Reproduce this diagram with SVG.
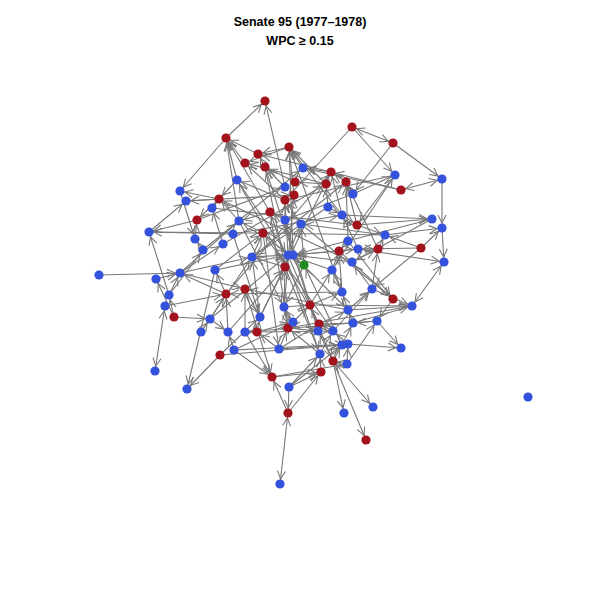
<svg xmlns="http://www.w3.org/2000/svg" width="600" height="600" viewBox="0 0 600 600">
<style>
.t{font-family:"Liberation Sans",Arial,sans-serif;font-weight:bold;font-size:12.5px;fill:#000;text-anchor:middle}
#edges line{stroke:#777;stroke-width:1.1;marker-end:url(#a)}
#edges line.d{marker-start:url(#s)}
.r{fill:#A3131E}.b{fill:#3452DC}.g{fill:#1F8A1F}
</style>
<defs>
<marker id="a" markerUnits="userSpaceOnUse" markerWidth="20" markerHeight="20" refX="13" refY="4" orient="auto" overflow="visible"><path d="M0,0 L8,4 L0,8" fill="none" stroke="#777" stroke-width="1.1"/></marker>
<marker id="s" markerUnits="userSpaceOnUse" markerWidth="20" markerHeight="20" refX="13" refY="4" orient="auto-start-reverse" overflow="visible"><path d="M0,0 L8,4 L0,8" fill="none" stroke="#777" stroke-width="1.1"/></marker>
</defs>
<rect width="600" height="600" fill="#fff"/>
<text class="t" x="300" y="26">Senate 95 (1977–1978)</text>
<text class="t" x="300" y="45">WPC ≥ 0.15</text>
<g id="edges">
<line x1="226" y1="138" x2="265" y2="101"/>
<line x1="226" y1="138" x2="180" y2="191"/>
<line class="d" x1="352" y1="127" x2="393" y2="143"/>
<line x1="352" y1="127" x2="395" y2="175"/>
<line x1="352" y1="127" x2="285" y2="200"/>
<line x1="393" y1="143" x2="442" y2="179"/>
<line x1="393" y1="143" x2="353" y2="194"/>
<line class="d" x1="401" y1="190" x2="442" y2="179"/>
<line x1="401" y1="190" x2="331" y2="172"/>
<line x1="353" y1="194" x2="395" y2="175"/>
<line x1="332" y1="270" x2="395" y2="175"/>
<line x1="442" y1="179" x2="442" y2="228"/>
<line x1="385" y1="235" x2="442" y2="228"/>
<line x1="421" y1="248" x2="442" y2="228"/>
<line x1="442" y1="228" x2="444" y2="262"/>
<line class="d" x1="444" y1="262" x2="412" y2="306"/>
<line x1="358" y1="249" x2="444" y2="262"/>
<line x1="421" y1="248" x2="385" y2="235"/>
<line x1="357" y1="225" x2="432" y2="219"/>
<line x1="342" y1="215" x2="432" y2="219"/>
<line x1="348" y1="241" x2="393" y2="299"/>
<line x1="339" y1="251" x2="393" y2="299"/>
<line x1="372" y1="289" x2="412" y2="306"/>
<line x1="348" y1="310" x2="412" y2="306"/>
<line x1="310" y1="305" x2="412" y2="306"/>
<line x1="377" y1="321" x2="401" y2="348"/>
<line x1="348" y1="344" x2="401" y2="348"/>
<line x1="99" y1="275" x2="180" y2="273"/>
<line class="d" x1="165" y1="306" x2="155" y2="371"/>
<line x1="169" y1="295" x2="149" y2="232"/>
<line x1="220" y1="355" x2="187" y2="389"/>
<line x1="215" y1="270" x2="187" y2="389"/>
<line class="d" x1="288" y1="413" x2="280" y2="484"/>
<line x1="288" y1="413" x2="272" y2="377"/>
<line x1="289" y1="387" x2="288" y2="413"/>
<line x1="288" y1="413" x2="321" y2="372"/>
<line x1="234" y1="350" x2="272" y2="377"/>
<line x1="272" y1="377" x2="321" y2="372"/>
<line x1="289" y1="387" x2="321" y2="372"/>
<line x1="289" y1="387" x2="320" y2="354"/>
<line x1="333" y1="361" x2="344" y2="413"/>
<line class="d" x1="333" y1="361" x2="373" y2="407"/>
<line x1="333" y1="361" x2="366" y2="440"/>
<line x1="285" y1="187" x2="265" y2="101"/>
<line x1="245" y1="289" x2="272" y2="377"/>
<line x1="245" y1="332" x2="272" y2="377"/>
<line x1="245" y1="163" x2="226" y2="138"/>
<line x1="258" y1="154" x2="226" y2="138"/>
<line x1="237" y1="180" x2="226" y2="138"/>
<line x1="239" y1="221" x2="226" y2="138"/>
<line x1="270" y1="212" x2="226" y2="138"/>
<line x1="265" y1="167" x2="258" y2="154"/>
<line x1="289" y1="147" x2="258" y2="154"/>
<line x1="289" y1="147" x2="245" y2="163"/>
<line x1="303" y1="168" x2="289" y2="147"/>
<line x1="294" y1="195" x2="289" y2="147"/>
<line x1="293" y1="255" x2="289" y2="147"/>
<line x1="326" y1="184" x2="289" y2="147"/>
<line x1="342" y1="215" x2="289" y2="147"/>
<line x1="331" y1="172" x2="303" y2="168"/>
<line x1="346" y1="182" x2="331" y2="172"/>
<line x1="295" y1="182" x2="265" y2="167"/>
<line x1="285" y1="187" x2="265" y2="167"/>
<line x1="326" y1="184" x2="295" y2="182"/>
<line x1="328" y1="207" x2="326" y2="184"/>
<line x1="353" y1="194" x2="346" y2="182"/>
<line x1="357" y1="225" x2="346" y2="182"/>
<line x1="348" y1="241" x2="346" y2="182"/>
<line x1="342" y1="215" x2="331" y2="172"/>
<line x1="285" y1="200" x2="245" y2="163"/>
<line x1="285" y1="200" x2="237" y2="180"/>
<line x1="219" y1="199" x2="186" y2="201"/>
<line x1="219" y1="199" x2="180" y2="191"/>
<line x1="197" y1="220" x2="149" y2="232"/>
<line x1="237" y1="180" x2="219" y2="199"/>
<line x1="239" y1="221" x2="219" y2="199"/>
<line x1="219" y1="199" x2="197" y2="220"/>
<line x1="212" y1="208" x2="219" y2="199"/>
<line x1="233" y1="234" x2="149" y2="232"/>
<line x1="149" y1="232" x2="186" y2="201"/>
<line x1="195" y1="239" x2="197" y2="220"/>
<line x1="223" y1="244" x2="212" y2="208"/>
<line x1="203" y1="250" x2="195" y2="239"/>
<line x1="252" y1="257" x2="263" y2="233"/>
<line x1="263" y1="233" x2="239" y2="221"/>
<line x1="270" y1="212" x2="239" y2="221"/>
<line x1="285" y1="220" x2="270" y2="212"/>
<line x1="301" y1="224" x2="285" y2="200"/>
<line x1="285" y1="220" x2="285" y2="200"/>
<line x1="288" y1="255" x2="285" y2="200"/>
<line x1="293" y1="255" x2="285" y2="220"/>
<line x1="288" y1="255" x2="301" y2="224"/>
<line x1="304" y1="265" x2="288" y2="255"/>
<line x1="358" y1="249" x2="293" y2="255"/>
<line x1="339" y1="251" x2="293" y2="255"/>
<line x1="352" y1="262" x2="293" y2="255"/>
<line x1="332" y1="270" x2="288" y2="255"/>
<line x1="285" y1="267" x2="288" y2="255"/>
<line x1="252" y1="257" x2="288" y2="255"/>
<line x1="263" y1="233" x2="288" y2="255"/>
<line x1="215" y1="270" x2="288" y2="255"/>
<line x1="180" y1="273" x2="223" y2="244"/>
<line x1="156" y1="279" x2="180" y2="273"/>
<line x1="169" y1="295" x2="180" y2="273"/>
<line x1="180" y1="273" x2="252" y2="257"/>
<line x1="180" y1="273" x2="245" y2="289"/>
<line x1="226" y1="294" x2="180" y2="273"/>
<line x1="174" y1="317" x2="156" y2="279"/>
<line x1="174" y1="317" x2="169" y2="295"/>
<line x1="174" y1="317" x2="210" y2="319"/>
<line x1="165" y1="306" x2="226" y2="294"/>
<line x1="169" y1="295" x2="203" y2="250"/>
<line x1="180" y1="191" x2="195" y2="239"/>
<line x1="328" y1="207" x2="342" y2="215"/>
<line x1="342" y1="215" x2="357" y2="225"/>
<line x1="357" y1="225" x2="385" y2="235"/>
<line x1="348" y1="241" x2="339" y2="251"/>
<line x1="358" y1="249" x2="378" y2="249"/>
<line x1="378" y1="249" x2="385" y2="235"/>
<line x1="352" y1="262" x2="378" y2="249"/>
<line x1="332" y1="270" x2="339" y2="251"/>
<line x1="339" y1="251" x2="358" y2="249"/>
<line x1="342" y1="292" x2="332" y2="270"/>
<line x1="372" y1="289" x2="378" y2="249"/>
<line x1="372" y1="289" x2="352" y2="262"/>
<line x1="393" y1="299" x2="377" y2="321"/>
<line x1="377" y1="321" x2="353" y2="323"/>
<line x1="353" y1="323" x2="348" y2="310"/>
<line x1="348" y1="310" x2="342" y2="292"/>
<line x1="342" y1="292" x2="339" y2="251"/>
<line x1="310" y1="305" x2="332" y2="270"/>
<line x1="310" y1="305" x2="342" y2="292"/>
<line x1="284" y1="307" x2="310" y2="305"/>
<line x1="293" y1="322" x2="310" y2="305"/>
<line x1="319" y1="324" x2="310" y2="305"/>
<line x1="318" y1="331" x2="319" y2="324"/>
<line x1="333" y1="331" x2="319" y2="324"/>
<line x1="353" y1="323" x2="319" y2="324"/>
<line x1="319" y1="324" x2="348" y2="310"/>
<line x1="348" y1="310" x2="372" y2="289"/>
<line x1="333" y1="331" x2="372" y2="289"/>
<line x1="342" y1="345" x2="353" y2="323"/>
<line x1="348" y1="344" x2="333" y2="331"/>
<line x1="333" y1="361" x2="318" y2="331"/>
<line x1="320" y1="354" x2="333" y2="331"/>
<line x1="321" y1="372" x2="320" y2="354"/>
<line x1="347" y1="364" x2="333" y2="361"/>
<line x1="347" y1="364" x2="348" y2="344"/>
<line x1="333" y1="361" x2="342" y2="345"/>
<line x1="284" y1="307" x2="285" y2="267"/>
<line x1="285" y1="267" x2="252" y2="257"/>
<line x1="304" y1="265" x2="301" y2="224"/>
<line x1="304" y1="265" x2="284" y2="307"/>
<line x1="260" y1="317" x2="285" y2="267"/>
<line x1="260" y1="317" x2="252" y2="257"/>
<line x1="245" y1="289" x2="260" y2="317"/>
<line x1="257" y1="332" x2="260" y2="317"/>
<line x1="245" y1="332" x2="257" y2="332"/>
<line x1="257" y1="332" x2="293" y2="322"/>
<line x1="288" y1="328" x2="293" y2="322"/>
<line x1="293" y1="322" x2="284" y2="307"/>
<line x1="288" y1="328" x2="284" y2="307"/>
<line x1="279" y1="349" x2="288" y2="328"/>
<line x1="320" y1="354" x2="288" y2="328"/>
<line x1="288" y1="328" x2="318" y2="331"/>
<line x1="279" y1="349" x2="257" y2="332"/>
<line x1="234" y1="350" x2="228" y2="332"/>
<line x1="228" y1="332" x2="226" y2="294"/>
<line x1="210" y1="319" x2="226" y2="294"/>
<line x1="201" y1="332" x2="210" y2="319"/>
<line x1="210" y1="319" x2="228" y2="332"/>
<line x1="245" y1="332" x2="245" y2="289"/>
<line x1="226" y1="294" x2="215" y2="270"/>
<line x1="215" y1="270" x2="263" y2="233"/>
<line x1="395" y1="175" x2="285" y2="200"/>
<line x1="401" y1="190" x2="303" y2="168"/>
<line x1="432" y1="219" x2="293" y2="255"/>
<line x1="385" y1="235" x2="263" y2="233"/>
<line x1="421" y1="248" x2="358" y2="249"/>
<line x1="412" y1="306" x2="288" y2="328"/>
<line x1="377" y1="321" x2="245" y2="332"/>
<line x1="234" y1="350" x2="348" y2="344"/>
<line x1="220" y1="355" x2="342" y2="345"/>
<line x1="279" y1="349" x2="342" y2="345"/>
<line x1="331" y1="172" x2="258" y2="154"/>
<line x1="326" y1="184" x2="245" y2="163"/>
<line x1="289" y1="147" x2="342" y2="292"/>
<line x1="265" y1="167" x2="285" y2="267"/>
<line x1="237" y1="180" x2="288" y2="255"/>
<line x1="233" y1="234" x2="342" y2="215"/>
<line x1="223" y1="244" x2="326" y2="184"/>
<line x1="203" y1="250" x2="303" y2="168"/>
<line x1="197" y1="220" x2="285" y2="187"/>
<line x1="186" y1="201" x2="294" y2="195"/>
<line x1="212" y1="208" x2="357" y2="225"/>
<line x1="252" y1="257" x2="346" y2="182"/>
<line x1="149" y1="232" x2="263" y2="233"/>
<line x1="180" y1="273" x2="239" y2="221"/>
<line x1="226" y1="294" x2="331" y2="172"/>
<line x1="284" y1="307" x2="294" y2="195"/>
<line x1="260" y1="317" x2="331" y2="172"/>
<line x1="310" y1="305" x2="265" y2="167"/>
<line x1="318" y1="331" x2="285" y2="220"/>
<line x1="319" y1="324" x2="237" y2="180"/>
<line x1="320" y1="354" x2="270" y2="212"/>
<line x1="342" y1="345" x2="304" y2="265"/>
<line x1="333" y1="331" x2="263" y2="233"/>
<line x1="348" y1="310" x2="245" y2="289"/>
<line x1="342" y1="292" x2="226" y2="294"/>
<line x1="352" y1="262" x2="219" y2="199"/>
<line x1="385" y1="235" x2="301" y2="224"/>
<line x1="353" y1="194" x2="285" y2="220"/>
<line x1="328" y1="207" x2="252" y2="257"/>
<line x1="301" y1="224" x2="393" y2="299"/>
<line x1="293" y1="255" x2="348" y2="310"/>
<line x1="288" y1="255" x2="333" y2="361"/>
<line x1="285" y1="267" x2="320" y2="354"/>
<line x1="270" y1="212" x2="288" y2="328"/>
<line x1="263" y1="233" x2="279" y2="349"/>
<line x1="239" y1="221" x2="284" y2="307"/>
<line x1="233" y1="234" x2="260" y2="317"/>
<line x1="228" y1="332" x2="285" y2="267"/>
<line x1="201" y1="332" x2="252" y2="257"/>
<line x1="210" y1="319" x2="288" y2="255"/>
<line x1="234" y1="350" x2="293" y2="322"/>
<line x1="257" y1="332" x2="333" y2="331"/>
<line x1="279" y1="349" x2="319" y2="324"/>
<line x1="289" y1="387" x2="342" y2="345"/>
<line x1="272" y1="377" x2="347" y2="364"/>
<line x1="220" y1="355" x2="260" y2="317"/>
<line x1="347" y1="364" x2="377" y2="321"/>
<line x1="353" y1="323" x2="412" y2="306"/>
<line x1="358" y1="249" x2="342" y2="215"/>
<line x1="378" y1="249" x2="346" y2="182"/>
<line x1="395" y1="175" x2="357" y2="225"/>
<line x1="432" y1="219" x2="352" y2="262"/>
<line x1="421" y1="248" x2="372" y2="289"/>
</g>
<g id="nodes">
<g id="r1"><circle class="r" cx="265" cy="101" r="4.6"/></g>
<g id="r2"><circle class="r" cx="226" cy="138" r="4.6"/></g>
<g id="r3"><circle class="r" cx="352" cy="127" r="4.6"/></g>
<g id="r4"><circle class="r" cx="393" cy="143" r="4.6"/></g>
<g id="r5"><circle class="r" cx="289" cy="147" r="4.6"/></g>
<g id="r6"><circle class="r" cx="258" cy="154" r="4.6"/></g>
<g id="r7"><circle class="r" cx="245" cy="163" r="4.6"/></g>
<g id="r8"><circle class="r" cx="265" cy="167" r="4.6"/></g>
<g id="r9"><circle class="r" cx="331" cy="172" r="4.6"/></g>
<g id="r10"><circle class="r" cx="346" cy="182" r="4.6"/></g>
<g id="r11"><circle class="r" cx="295" cy="182" r="4.6"/></g>
<g id="r12"><circle class="r" cx="326" cy="184" r="4.6"/></g>
<g id="r13"><circle class="r" cx="294" cy="195" r="4.6"/></g>
<g id="r14"><circle class="r" cx="285" cy="200" r="4.6"/></g>
<g id="r15"><circle class="r" cx="401" cy="190" r="4.6"/></g>
<g id="r16"><circle class="r" cx="219" cy="199" r="4.6"/></g>
<g id="r17"><circle class="r" cx="197" cy="220" r="4.6"/></g>
<g id="r18"><circle class="r" cx="270" cy="212" r="4.6"/></g>
<g id="r19"><circle class="r" cx="357" cy="225" r="4.6"/></g>
<g id="r20"><circle class="r" cx="263" cy="233" r="4.6"/></g>
<g id="r21"><circle class="r" cx="339" cy="251" r="4.6"/></g>
<g id="r22"><circle class="r" cx="378" cy="249" r="4.6"/></g>
<g id="r23"><circle class="r" cx="421" cy="248" r="4.6"/></g>
<g id="r24"><circle class="r" cx="285" cy="267" r="4.6"/></g>
<g id="r25"><circle class="r" cx="226" cy="294" r="4.6"/></g>
<g id="r26"><circle class="r" cx="245" cy="289" r="4.6"/></g>
<g id="r27"><circle class="r" cx="174" cy="317" r="4.6"/></g>
<g id="r28"><circle class="r" cx="310" cy="305" r="4.6"/></g>
<g id="r29"><circle class="r" cx="393" cy="299" r="4.6"/></g>
<g id="r30"><circle class="r" cx="257" cy="332" r="4.6"/></g>
<g id="r31"><circle class="r" cx="288" cy="328" r="4.6"/></g>
<g id="r32"><circle class="r" cx="319" cy="324" r="4.6"/></g>
<g id="r33"><circle class="r" cx="220" cy="355" r="4.6"/></g>
<g id="r34"><circle class="r" cx="333" cy="361" r="4.6"/></g>
<g id="r35"><circle class="r" cx="321" cy="372" r="4.6"/></g>
<g id="r36"><circle class="r" cx="272" cy="377" r="4.6"/></g>
<g id="r37"><circle class="r" cx="288" cy="413" r="4.6"/></g>
<g id="r38"><circle class="r" cx="366" cy="440" r="4.6"/></g>
<g id="b1"><circle class="b" cx="303" cy="168" r="4.6"/></g>
<g id="b2"><circle class="b" cx="395" cy="175" r="4.6"/></g>
<g id="b3"><circle class="b" cx="442" cy="179" r="4.6"/></g>
<g id="b4"><circle class="b" cx="353" cy="194" r="4.6"/></g>
<g id="b5"><circle class="b" cx="285" cy="187" r="4.6"/></g>
<g id="b6"><circle class="b" cx="328" cy="207" r="4.6"/></g>
<g id="b7"><circle class="b" cx="342" cy="215" r="4.6"/></g>
<g id="b8"><circle class="b" cx="432" cy="219" r="4.6"/></g>
<g id="b9"><circle class="b" cx="442" cy="228" r="4.6"/></g>
<g id="b10"><circle class="b" cx="285" cy="220" r="4.6"/></g>
<g id="b11"><circle class="b" cx="301" cy="224" r="4.6"/></g>
<g id="b12"><circle class="b" cx="237" cy="180" r="4.6"/></g>
<g id="b13"><circle class="b" cx="180" cy="191" r="4.6"/></g>
<g id="b14"><circle class="b" cx="186" cy="201" r="4.6"/></g>
<g id="b15"><circle class="b" cx="212" cy="208" r="4.6"/></g>
<g id="b16"><circle class="b" cx="149" cy="232" r="4.6"/></g>
<g id="b17"><circle class="b" cx="239" cy="221" r="4.6"/></g>
<g id="b18"><circle class="b" cx="233" cy="234" r="4.6"/></g>
<g id="b19"><circle class="b" cx="195" cy="239" r="4.6"/></g>
<g id="b20"><circle class="b" cx="223" cy="244" r="4.6"/></g>
<g id="b21"><circle class="b" cx="203" cy="250" r="4.6"/></g>
<g id="b22"><circle class="b" cx="252" cy="257" r="4.6"/></g>
<g id="b23"><circle class="b" cx="99" cy="275" r="4.6"/></g>
<g id="b24"><circle class="b" cx="180" cy="273" r="4.6"/></g>
<g id="b25"><circle class="b" cx="215" cy="270" r="4.6"/></g>
<g id="b26"><circle class="b" cx="156" cy="279" r="4.6"/></g>
<g id="b27"><circle class="b" cx="169" cy="295" r="4.6"/></g>
<g id="b28"><circle class="b" cx="165" cy="306" r="4.6"/></g>
<g id="b29"><circle class="b" cx="210" cy="319" r="4.6"/></g>
<g id="b30"><circle class="b" cx="201" cy="332" r="4.6"/></g>
<g id="b31"><circle class="b" cx="228" cy="332" r="4.6"/></g>
<g id="b32"><circle class="b" cx="245" cy="332" r="4.6"/></g>
<g id="b33"><circle class="b" cx="260" cy="317" r="4.6"/></g>
<g id="b34"><circle class="b" cx="385" cy="235" r="4.6"/></g>
<g id="b35"><circle class="b" cx="348" cy="241" r="4.6"/></g>
<g id="b36"><circle class="b" cx="358" cy="249" r="4.6"/></g>
<g id="b37"><circle class="b" cx="288" cy="255" r="4.6"/></g>
<g id="b38"><circle class="b" cx="293" cy="255" r="4.6"/></g>
<g id="b39"><circle class="b" cx="352" cy="262" r="4.6"/></g>
<g id="b40"><circle class="b" cx="332" cy="270" r="4.6"/></g>
<g id="b41"><circle class="b" cx="444" cy="262" r="4.6"/></g>
<g id="b42"><circle class="b" cx="342" cy="292" r="4.6"/></g>
<g id="b43"><circle class="b" cx="372" cy="289" r="4.6"/></g>
<g id="b44"><circle class="b" cx="412" cy="306" r="4.6"/></g>
<g id="b45"><circle class="b" cx="284" cy="307" r="4.6"/></g>
<g id="b46"><circle class="b" cx="348" cy="310" r="4.6"/></g>
<g id="b47"><circle class="b" cx="293" cy="322" r="4.6"/></g>
<g id="b48"><circle class="b" cx="318" cy="331" r="4.6"/></g>
<g id="b49"><circle class="b" cx="333" cy="331" r="4.6"/></g>
<g id="b50"><circle class="b" cx="353" cy="323" r="4.6"/></g>
<g id="b51"><circle class="b" cx="377" cy="321" r="4.6"/></g>
<g id="b52"><circle class="b" cx="279" cy="349" r="4.6"/></g>
<g id="b53"><circle class="b" cx="320" cy="354" r="4.6"/></g>
<g id="b54"><circle class="b" cx="342" cy="345" r="4.6"/></g>
<g id="b55"><circle class="b" cx="348" cy="344" r="4.6"/></g>
<g id="b56"><circle class="b" cx="401" cy="348" r="4.6"/></g>
<g id="b57"><circle class="b" cx="234" cy="350" r="4.6"/></g>
<g id="b58"><circle class="b" cx="347" cy="364" r="4.6"/></g>
<g id="b59"><circle class="b" cx="289" cy="387" r="4.6"/></g>
<g id="b60"><circle class="b" cx="187" cy="389" r="4.6"/></g>
<g id="b61"><circle class="b" cx="155" cy="371" r="4.6"/></g>
<g id="b62"><circle class="b" cx="344" cy="413" r="4.6"/></g>
<g id="b63"><circle class="b" cx="373" cy="407" r="4.6"/></g>
<g id="b64"><circle class="b" cx="280" cy="484" r="4.6"/></g>
<g id="b65"><circle class="b" cx="528" cy="397" r="4.6"/></g>
<g id="g1"><circle class="g" cx="304" cy="265" r="4.6"/></g>
</g>
</svg>
